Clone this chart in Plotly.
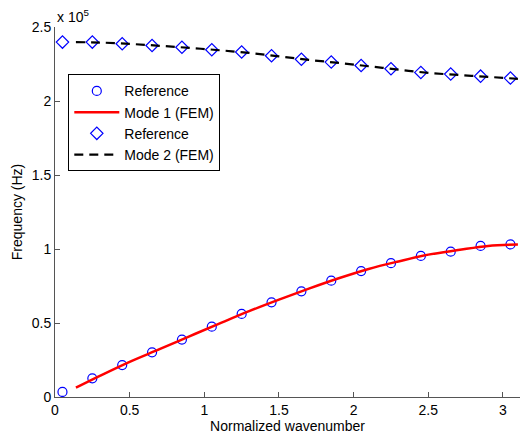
import plotly.graph_objects as go

# Reference points (normalized wavenumber) and frequencies (Hz)
ref_k = [0.05, 0.25, 0.45, 0.65, 0.85, 1.05, 1.25, 1.45, 1.65, 1.85, 2.05, 2.25, 2.45, 2.65, 2.85, 3.05]
ref_mode1 = [3400, 12600, 21600, 30200, 38800, 47500, 56100, 64000, 71400, 78600, 85100, 90400, 95300, 98200, 102100, 103100]
ref_mode2 = [239800, 239800, 238700, 237500, 236300, 234600, 233100, 230600, 228200, 226300, 224000, 221800, 219300, 218200, 216800, 215500]

# FEM curves
fem_k = [0.14, 0.3, 0.5, 0.7, 0.9, 1.1, 1.3, 1.5, 1.7, 1.9, 2.1, 2.3, 2.5, 2.7, 2.9, 3.1]
fem_mode1 = [6300, 14300, 23800, 32300, 41000, 49600, 58000, 65800, 73200, 80200, 86500, 91600, 96200, 99300, 102100, 103000]
fem_mode2 = [239800, 239500, 238600, 237300, 235900, 234300, 232500, 230200, 227800, 225700, 223500, 221200, 219000, 217600, 216300, 215000]

y_tickvals = [0, 50000, 100000, 150000, 200000, 250000]
y_ticktext = ["0", "0.5", "1", "1.5", "2", "2.5"]
x_tickvals = [0, 0.5, 1, 1.5, 2, 2.5, 3]
x_ticktext = ["0", "0.5", "1", "1.5", "2", "2.5", "3"]

FONT = "Liberation Sans, Arial, sans-serif"

fig = go.Figure()
fig.add_trace(go.Scatter(x=ref_k, y=ref_mode1, mode="markers", name="Reference",
                         marker=dict(symbol="circle-open", size=9, color="#0000ff",
                                     line=dict(width=1.2, color="#0000ff"))))
fig.add_trace(go.Scatter(x=fem_k, y=fem_mode1, mode="lines", name="Mode 1 (FEM)",
                         line=dict(color="#ff0000", width=2.5), line_shape="spline"))
fig.add_trace(go.Scatter(x=ref_k, y=ref_mode2, mode="markers", name="Reference",
                         marker=dict(symbol="diamond-open", size=9.5, color="#0000ff",
                                     line=dict(width=1.2, color="#0000ff"))))
fig.add_trace(go.Scatter(x=fem_k, y=fem_mode2, mode="lines", name="Mode 2 (FEM)",
                         line=dict(color="#000000", width=2.2, dash="9px,6px"), line_shape="spline"))

axis_common = dict(showgrid=False, zeroline=False, showline=True, linecolor="#555555",
                   linewidth=1, ticks="inside", ticklen=5, tickcolor="#555555",
                   tickfont=dict(family=FONT, size=14, color="#000000"), mirror=False)

fig.update_layout(
    width=520, height=436,
    margin=dict(l=55, r=0, t=27, b=39, pad=0),
    paper_bgcolor="white", plot_bgcolor="white",
    font=dict(family=FONT, size=14, color="#000000"),
    showlegend=True,
    legend=dict(x=0.0286, y=0.872, xanchor="left", yanchor="top",
                bgcolor="white", bordercolor="#000000", borderwidth=1,
                font=dict(family=FONT, size=14, color="#000000"),
                itemwidth=45, tracegroupgap=0),
    xaxis=dict(range=[0, 3.114], tickvals=x_tickvals, ticktext=x_ticktext,
               title=dict(text="Normalized wavenumber", font=dict(family=FONT, size=14), standoff=2),
               **axis_common),
    yaxis=dict(range=[0, 250000], tickvals=y_tickvals, ticktext=y_ticktext,
               title=dict(text="Frequency (Hz)", font=dict(family=FONT, size=14), standoff=5),
               **axis_common),
)

fig.add_annotation(text="x 10<sup>5</sup>", xref="paper", yref="paper", x=0, y=1,
                   xanchor="left", yanchor="bottom", showarrow=False, xshift=0, yshift=0,
                   font=dict(family=FONT, size=14, color="#000000"))

fig.write_html("out.html", config={"displayModeBar": False},
               post_script="document.body.style.margin='0';document.body.style.overflow='hidden';")
